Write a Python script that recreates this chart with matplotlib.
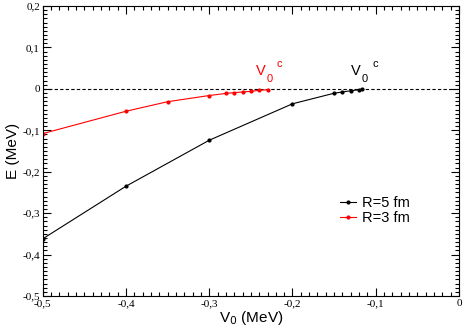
import matplotlib
matplotlib.use('Agg')
import matplotlib.pyplot as plt
from matplotlib.ticker import MultipleLocator, FuncFormatter

# R=5 fm
v5 = [-0.5, -0.4, -0.3, -0.2, -0.15, -0.14, -0.13, -0.12, -0.116]
e5 = [-0.362, -0.235, -0.124, -0.036, -0.0105, -0.0075, -0.0045, -0.002, -0.0005]
# R=3 fm
v3 = [-0.5, -0.4, -0.35, -0.3, -0.28, -0.27, -0.26, -0.25, -0.24, -0.23]
e3 = [-0.108, -0.054, -0.031, -0.016, -0.011, -0.009, -0.0075, -0.006, -0.0035, -0.002]

fig = plt.figure(figsize=(4.63, 3.35), dpi=100)
ax = fig.add_axes([0.0922, 0.1164, 0.8992, 0.8656])

ax.axhline(0, color='black', ls='--', lw=0.8, dashes=(3, 2))
ax.plot(v5, e5, '-', color='black', lw=0.8, marker='o', ms=2, label='R=5 fm')
ax.plot(v3, e3, '-', color='red', lw=0.8, marker='o', ms=2, label='R=3 fm')

ax.set_xlim(-0.5, 0)
ax.set_ylim(-0.5, 0.2)
ax.xaxis.set_major_locator(MultipleLocator(0.1))
ax.xaxis.set_minor_locator(MultipleLocator(0.01))
ax.yaxis.set_major_locator(MultipleLocator(0.1))
ax.yaxis.set_minor_locator(MultipleLocator(0.01))

fmt = FuncFormatter(lambda v, p: '0' if abs(v) < 1e-9 else ('%.1f' % v).replace('.', ','))
ax.xaxis.set_major_formatter(fmt)
ax.yaxis.set_major_formatter(fmt)
ax.tick_params(which='both', direction='in', top=True, right=True, width=0.8)
ax.tick_params(which='major', length=6, labelsize=8, pad=2)
ax.tick_params(which='minor', length=3)
for lab in ax.get_xticklabels() + ax.get_yticklabels():
    lab.set_family('Liberation Serif')

ax.set_xlabel('V$_0$ (MeV)', fontsize=11, family='Liberation Sans', labelpad=1)
ax.set_ylabel('E (MeV)', fontsize=11, family='Liberation Sans', labelpad=2)

# critical V0 labels
for xv, col in [(-0.1295, 'black'), (-0.2436, 'red')]:
    ax.text(xv, 0.0336, 'V', color=col, fontsize=10.5, family='Liberation Sans', va='baseline')
    ax.text(xv + 0.0125, 0.0174, '0', color=col, fontsize=8, family='Liberation Sans', va='baseline')
    ax.text(xv + 0.025, 0.0536, 'c', color=col, fontsize=8, family='Liberation Sans', va='baseline')

ax.legend(loc='center left', bbox_to_anchor=(0.714, 0.294), frameon=False,
          prop={'family': 'Liberation Sans', 'size': 10.5}, handlelength=1.1,
          handletextpad=0.4, labelspacing=0.05, borderpad=0, borderaxespad=0)

for s in ax.spines.values():
    s.set_linewidth(0.8)

fig.savefig('out.png', dpi=100)
